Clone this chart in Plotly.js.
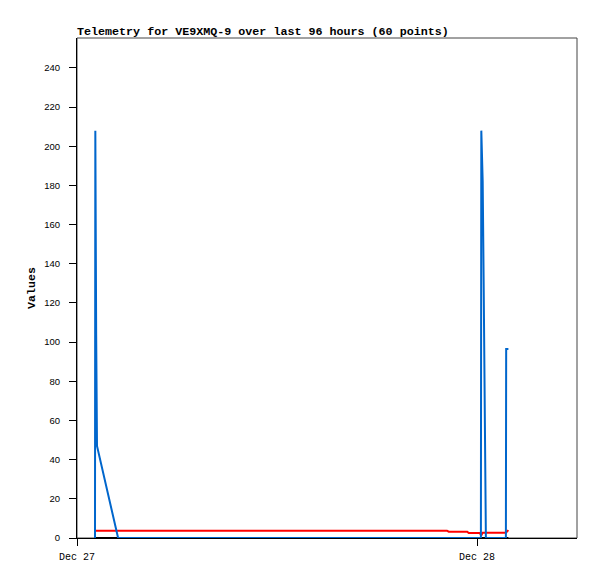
<!DOCTYPE html>
<html>
<head>
<meta charset="utf-8">
<script src="https://cdn.plot.ly/plotly-3.0.1.min.js"></script>
<style>html,body{margin:0;padding:0;background:#fff;}#chart{width:597px;height:579px;}</style>
</head>
<body>
<div id="chart"></div>
<script>
// Channel 1 (blue)
const blueTimes = ['2023-12-27 01:04:48','2023-12-27 01:06:00','2023-12-27 01:09:00','2023-12-27 01:12:00','2023-12-27 02:28:00','2023-12-27 22:12:00','2023-12-28 00:14:00','2023-12-28 00:15:30','2023-12-28 00:20:30','2023-12-28 00:24:00','2023-12-28 00:27:00','2023-12-28 00:31:00','2023-12-28 00:32:00','2023-12-28 01:44:00','2023-12-28 01:45:00','2023-12-28 01:53:00'];
const blueValues = [0, 208, 104, 47, 0, 0, 0, 208, 182, 130, 78, 26, 0, 0, 96.5, 96.5];
// Channel 2 (red)
const redTimes = ['2023-12-27 01:05:00','2023-12-27 02:28:00','2023-12-27 22:12:00','2023-12-27 22:18:00','2023-12-27 23:25:00','2023-12-27 23:30:00','2023-12-28 00:10:00','2023-12-28 00:15:00','2023-12-28 00:20:00','2023-12-28 01:44:00','2023-12-28 01:53:00'];
const redValues = [3.7, 3.7, 3.7, 3.2, 3.2, 2.6, 2.6, 1.2, 2.7, 2.7, 4.0];
// Channel 3 (black)
const blackTimes = ['2023-12-27 01:05:00','2023-12-27 02:28:00','2023-12-27 22:12:00','2023-12-28 00:15:00','2023-12-28 01:44:00','2023-12-28 01:53:00'];
const blackValues = [0, 0, 0, 0, 0, 0];

const titleText = 'Telemetry for VE9XMQ-9 over last 96 hours (60 points)';
const yTitle = 'Values';

const traces = [
  {x: blackTimes, y: blackValues, type: 'scatter', mode: 'lines', line: {color: '#000000', width: 2}, hoverinfo: 'skip'},
  {x: redTimes, y: redValues, type: 'scatter', mode: 'lines', line: {color: '#ff0000', width: 2}, hoverinfo: 'skip'},
  {x: blueTimes, y: blueValues, type: 'scatter', mode: 'lines', line: {color: '#0066cc', width: 2}, hoverinfo: 'skip'}
];

const layout = {
  width: 597, height: 579,
  margin: {l: 77, r: 20, t: 38, b: 41},
  paper_bgcolor: '#ffffff', plot_bgcolor: '#ffffff',
  showlegend: false,
  title: {text: titleText, x: 0, xref: 'paper', xanchor: 'left', y: 1 - 31/579, yref: 'container', yanchor: 'middle',
          font: {family: 'Liberation Mono, monospace', size: 11.7, color: '#000', weight: 'bold'}},
  xaxis: {type: 'date', range: ['2023-12-27 00:00', '2023-12-28 06:00'], tick0: '2023-12-27', dtick: 86400000,
          tickformat: '%b %d', ticks: 'outside', ticklen: 7, tickcolor: '#000', showgrid: false, zeroline: false,
          showline: true, linecolor: '#000', linewidth: 1, ticklabelstandoff: 2,
          tickfont: {family: 'Liberation Mono, monospace', size: 10, color: '#000'}},
  yaxis: {range: [0, 255.3], dtick: 20, tick0: 0, ticks: 'outside', ticklen: 7, tickcolor: '#000', showgrid: false,
          zeroline: false, showline: true, linecolor: '#000', linewidth: 1, ticklabelstandoff: 7,
          tickfont: {family: 'Liberation Sans, sans-serif', size: 9.5, color: '#000'},
          title: {text: yTitle, standoff: 6, font: {family: 'Liberation Mono, monospace', size: 11.6, color: '#000', weight: 'bold'}}},
  shapes: [{type: 'rect', xref: 'paper', yref: 'paper', x0: 0, x1: 1, y0: 0, y1: 1, line: {color: '#444', width: 1}, layer: 'below'}]
};

Plotly.newPlot('chart', traces, layout, {staticPlot: true, displayModeBar: false});
</script>
</body>
</html>
